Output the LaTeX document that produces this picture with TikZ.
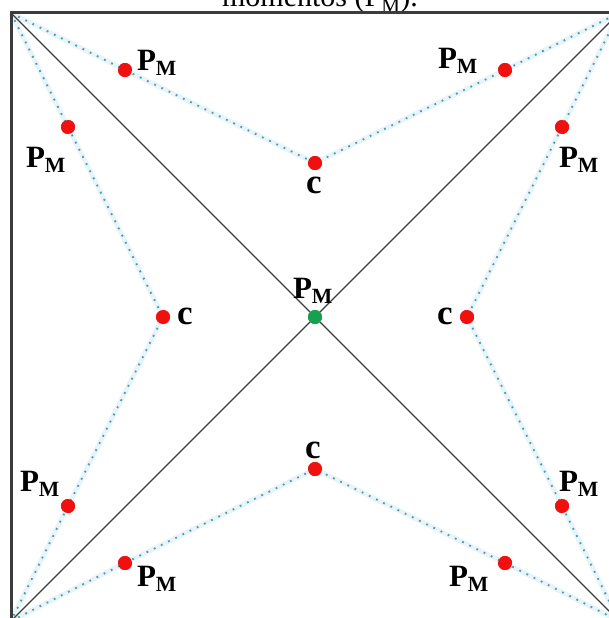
\documentclass[tikz,border=0pt]{standalone}
\usepackage{fontspec}
\setmainfont{Liberation Serif}
\definecolor{frameGray}{HTML}{3C3C3C}
\definecolor{dotBlue}{HTML}{4A9DB5}
\definecolor{haloBlue}{HTML}{E8F4F8}
\definecolor{ptRed}{HTML}{F01010}
\definecolor{ptGreen}{HTML}{16A050}
\begin{document}
\begin{tikzpicture}[x=1pt, y=-1pt,
    momFrame/.style={draw=frameGray, line width=3pt},
    momDiag/.style={draw=frameGray, line width=1.3pt},
    momHalo/.style={draw=haloBlue, line width=5pt},
    momPath/.style={draw=dotBlue, line width=1.8pt, dash pattern=on 1.8pt off 6.2pt},
    momPt/.style={circle, fill=ptRed, inner sep=0pt, minimum size=14pt},
    momLbl/.style={font=\fontsize{31}{33}\selectfont\bfseries, inner sep=0pt},
    momC/.style={font=\fontsize{35}{37}\selectfont\bfseries, inner sep=0pt}]

    \useasboundingbox (0, 0) rectangle (608, 618);

    % caption cut by the page edge
    \node[anchor=base, font=\fontsize{30}{32}\selectfont, inner sep=0pt] (caption) at (320, 7) {momentos (P\textsubscript{M}).};

    % corners of the square
    \coordinate (tl) at (11, 13);
    \coordinate (tr) at (619, 13);
    \coordinate (bl) at (11, 621);
    \coordinate (br) at (619, 621);

    % points
    \node[momPt] (pTL) at (125, 70) {};
    \node[momPt] (cT)  at (315, 163) {};
    \node[momPt] (pTR) at (505, 70) {};
    \node[momPt] (pLT) at (68, 127) {};
    \node[momPt] (cL)  at (163, 317) {};
    \node[momPt] (pLB) at (68, 506) {};
    \node[momPt] (pRT) at (562, 127) {};
    \node[momPt] (cR)  at (467, 317) {};
    \node[momPt] (pRB) at (562, 506) {};
    \node[momPt] (pBL) at (125, 563) {};
    \node[momPt] (cB)  at (315, 469) {};
    \node[momPt] (pBR) at (505, 563) {};
    \node[momPt, fill=ptGreen] (ctr) at (315, 317) {};

    % dotted polygons
    \foreach \a/\b/\c/\d/\e in {tl/pTL/cT/pTR/tr, tl/pLT/cL/pLB/bl, tr/pRT/cR/pRB/br, bl/pBL/cB/pBR/br} {
        \draw[momHalo] (\a) -- (\b.center) -- (\c.center) -- (\d.center) -- (\e);
        \draw[momPath] (\a) -- (\b.center) -- (\c.center) -- (\d.center) -- (\e);
    }

    % frame and diagonals
    \draw[momFrame] (bl) -- (tl) -- (tr) -- (br) -- cycle;
    \draw[momDiag] (tl) -- (ctr) -- (br);
    \draw[momDiag] (tr) -- (ctr) -- (bl);

    % redraw points on top
    \foreach \p in {pTL, cT, pTR, pLT, cL, pLB, pRT, cR, pRB, pBL, cB, pBR}
        \fill[ptRed] (\p) circle (7pt);
    \fill[ptGreen] (ctr) circle (7pt);

    % labels
    \node[momLbl] (lTL) at (157, 63) {P\textsubscript{M}};
    \node[momLbl] (lTR) at (458, 61) {P\textsubscript{M}};
    \node[momLbl] (lLT) at (46, 160) {P\textsubscript{M}};
    \node[momLbl] (lRT) at (579, 160) {P\textsubscript{M}};
    \node[momLbl] (lLB) at (40, 484) {P\textsubscript{M}};
    \node[momLbl] (lRB) at (579, 484) {P\textsubscript{M}};
    \node[momLbl] (lBL) at (157, 579) {P\textsubscript{M}};
    \node[momLbl] (lBR) at (469, 579) {P\textsubscript{M}};
    \node[momLbl] (lCtr) at (313, 291) {P\textsubscript{M}};
    \node[momC] (lcT) at (314, 185) {c};
    \node[momC] (lcB) at (313, 450) {c};
    \node[momC] (lcL) at (185, 316) {c};
    \node[momC] (lcR) at (445, 316) {c};
\end{tikzpicture}
\end{document}
